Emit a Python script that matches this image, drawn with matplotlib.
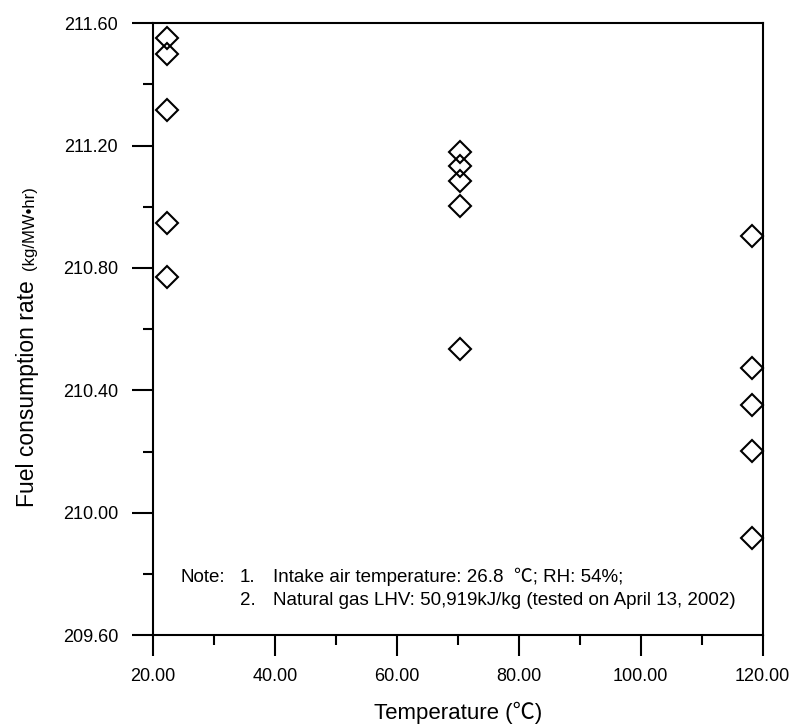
import matplotlib.pyplot as plt
from matplotlib.ticker import MultipleLocator, FormatStrFormatter

# fuel consumption measured at three intake temperatures
temp_low = [22.4, 22.4, 22.4, 22.4, 22.4]
rate_low = [211.55, 211.50, 211.316, 210.947, 210.77]

temp_mid = [70.3, 70.3, 70.3, 70.3, 70.3]
rate_mid = [211.179, 211.134, 211.084, 211.001, 210.534]

temp_high = [118.2, 118.2, 118.2, 118.2, 118.2]
rate_high = [210.904, 210.474, 210.352, 210.202, 209.918]

note_lines = [
    ("Note:", "1.", "Intake air temperature: 26.8  \u2103; RH: 54%;"),
    ("", "2.", "Natural gas LHV: 50,919kJ/kg (tested on April 13, 2002)"),
]

fam = ['Liberation Sans', 'Noto Sans CJK SC', 'DejaVu Sans']
plt.rcParams['font.family'] = fam

fig = plt.figure(figsize=(7.92, 7.25), dpi=100)
ax = fig.add_axes([0.193, 0.124, 0.770, 0.844])

for xs, ys in [(temp_low, rate_low), (temp_mid, rate_mid), (temp_high, rate_high)]:
    ax.plot(xs, ys, linestyle='none', marker='D', markersize=11,
            markerfacecolor='none', markeredgecolor='black', markeredgewidth=1.5,
            clip_on=False)

ax.set_xlim(20, 120)
ax.set_ylim(209.6, 211.6)
ax.xaxis.set_major_locator(MultipleLocator(20))
ax.xaxis.set_minor_locator(MultipleLocator(10))
ax.yaxis.set_major_locator(MultipleLocator(0.4))
ax.yaxis.set_minor_locator(MultipleLocator(0.2))
ax.xaxis.set_major_formatter(FormatStrFormatter('%.2f'))
ax.yaxis.set_major_formatter(FormatStrFormatter('%.2f'))

ax.tick_params(which='major', direction='out', length=15, width=1.5, labelsize=13)
ax.tick_params(which='minor', direction='out', length=7.5, width=1.5)
ax.tick_params(axis='y', pad=10)
ax.tick_params(axis='x', pad=9)
for s in ax.spines.values():
    s.set_linewidth(1.5)

ax.set_xlabel("Temperature (\u2103)", fontsize=16, labelpad=12)

fig.text(0.035, 0.457, "Fuel consumption rate", rotation=90, fontsize=16.5,
         ha='center', va='center')
fig.text(0.037, 0.686, "(kg/MW\u2022hr)", rotation=90, fontsize=12,
         ha='center', va='center')

xs_note = [0.046, 0.143, 0.197]
ys_note = [0.0948, 0.057]
for row, yv in zip(note_lines, ys_note):
    for txt, xv in zip(row, xs_note):
        if txt:
            ax.text(xv, yv, txt, transform=ax.transAxes, fontsize=13.5,
                    ha='left', va='center')

fig.savefig('out.png', dpi=100)
